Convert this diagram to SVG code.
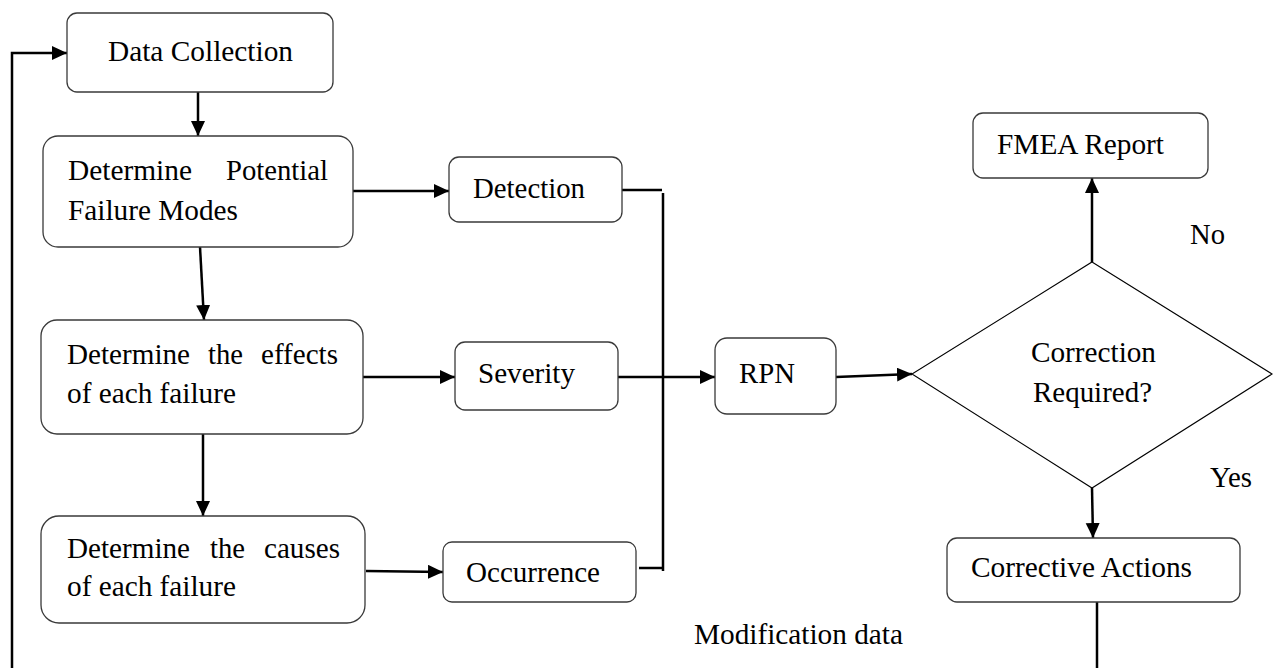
<svg xmlns="http://www.w3.org/2000/svg" width="1273" height="668" viewBox="0 0 1273 668">
  <style>
    .box { fill: #ffffff; stroke: #3a3a3a; stroke-width: 1.3; }
    .dia { fill: #ffffff; stroke: #000000; stroke-width: 1.1; }
    .con { fill: none; stroke: #000000; stroke-width: 2.5; }
    .arr { marker-end: url(#ah); }
    text { font-family: "Liberation Serif", "Times New Roman", serif; font-size: 28.5px; fill: #000000; }
  </style>
  <defs>
    <marker id="ah" markerUnits="userSpaceOnUse" markerWidth="16" markerHeight="15" refX="15" refY="7" orient="auto">
      <path d="M0,0 L15,7 L0,14 Z" fill="#000000"/>
    </marker>
  </defs>

  <g id="connectors">
    <path class="con arr" d="M12,668 V53 H67"/>
    <path class="con" d="M1097,602 V668"/>
    <path class="con arr" d="M198,92 V136"/>
    <path class="con arr" d="M200,247 L204,320"/>
    <path class="con arr" d="M203,434 V516"/>
    <path class="con arr" d="M353,191 H449"/>
    <path class="con arr" d="M363,377 H455"/>
    <path class="con arr" d="M366,571 L443,572"/>
    <path class="con" d="M622,190 H662"/>
    <path class="con" d="M663,193 V571"/>
    <path class="con" d="M639,568 H664"/>
    <path class="con arr" d="M618,377 H715"/>
    <path class="con arr" d="M836,377 L912,374"/>
    <path class="con arr" d="M1092,262 V178"/>
    <path class="con arr" d="M1092,488 L1093,538"/>
  </g>

  <g id="data-collection">
    <rect class="box" x="67" y="13" width="266" height="79" rx="10"/>
    <text x="108" y="61" textLength="185" lengthAdjust="spacingAndGlyphs">Data Collection</text>
  </g>

  <g id="potential-failure-modes">
    <rect class="box" x="43" y="136" width="310" height="111" rx="15"/>
    <text y="180"><tspan x="68" textLength="124" lengthAdjust="spacingAndGlyphs">Determine</tspan><tspan x="226" textLength="102" lengthAdjust="spacingAndGlyphs">Potential</tspan></text>
    <text x="68" y="220" textLength="170" lengthAdjust="spacingAndGlyphs">Failure Modes</text>
  </g>

  <g id="detection">
    <rect class="box" x="449" y="157" width="173" height="65" rx="10"/>
    <text x="473" y="198" textLength="112" lengthAdjust="spacingAndGlyphs">Detection</text>
  </g>

  <g id="effects">
    <rect class="box" x="41" y="320" width="322" height="114" rx="16"/>
    <text y="364"><tspan x="67" textLength="123" lengthAdjust="spacingAndGlyphs">Determine</tspan><tspan x="208" textLength="35" lengthAdjust="spacingAndGlyphs">the</tspan><tspan x="261" textLength="77" lengthAdjust="spacingAndGlyphs">effects</tspan></text>
    <text x="67" y="403" textLength="169" lengthAdjust="spacingAndGlyphs">of each failure</text>
  </g>

  <g id="severity">
    <rect class="box" x="455" y="342" width="163" height="68" rx="10"/>
    <text x="478" y="383" textLength="97" lengthAdjust="spacingAndGlyphs">Severity</text>
  </g>

  <g id="rpn">
    <rect class="box" x="715" y="338" width="121" height="76" rx="12"/>
    <text x="739" y="383" textLength="56" lengthAdjust="spacingAndGlyphs">RPN</text>
  </g>

  <g id="causes">
    <rect class="box" x="41" y="516" width="324" height="107" rx="18"/>
    <text y="558"><tspan x="67" textLength="123" lengthAdjust="spacingAndGlyphs">Determine</tspan><tspan x="210" textLength="35" lengthAdjust="spacingAndGlyphs">the</tspan><tspan x="264" textLength="76" lengthAdjust="spacingAndGlyphs">causes</tspan></text>
    <text x="67" y="596" textLength="169" lengthAdjust="spacingAndGlyphs">of each failure</text>
  </g>

  <g id="occurrence">
    <rect class="box" x="443" y="542" width="193" height="60" rx="9"/>
    <text x="466" y="582" textLength="134" lengthAdjust="spacingAndGlyphs">Occurrence</text>
  </g>

  <g id="decision">
    <polygon class="dia" points="1092,262 1272,374 1092,488 912,374"/>
    <text x="1031" y="362" textLength="125" lengthAdjust="spacingAndGlyphs">Correction</text>
    <text x="1033" y="402" textLength="119" lengthAdjust="spacingAndGlyphs">Required?</text>
  </g>

  <g id="fmea-report">
    <rect class="box" x="973" y="113" width="235" height="65" rx="10"/>
    <text x="997" y="154" textLength="167" lengthAdjust="spacingAndGlyphs">FMEA Report</text>
  </g>

  <g id="corrective-actions">
    <rect class="box" x="947" y="538" width="293" height="64" rx="10"/>
    <text x="971" y="577" textLength="221" lengthAdjust="spacingAndGlyphs">Corrective Actions</text>
  </g>

  <g id="labels">
    <text x="1190" y="244" textLength="35" lengthAdjust="spacingAndGlyphs">No</text>
    <text x="1210" y="487" textLength="42" lengthAdjust="spacingAndGlyphs">Yes</text>
    <text x="694" y="644" textLength="209" lengthAdjust="spacingAndGlyphs">Modification data</text>
  </g>
</svg>
